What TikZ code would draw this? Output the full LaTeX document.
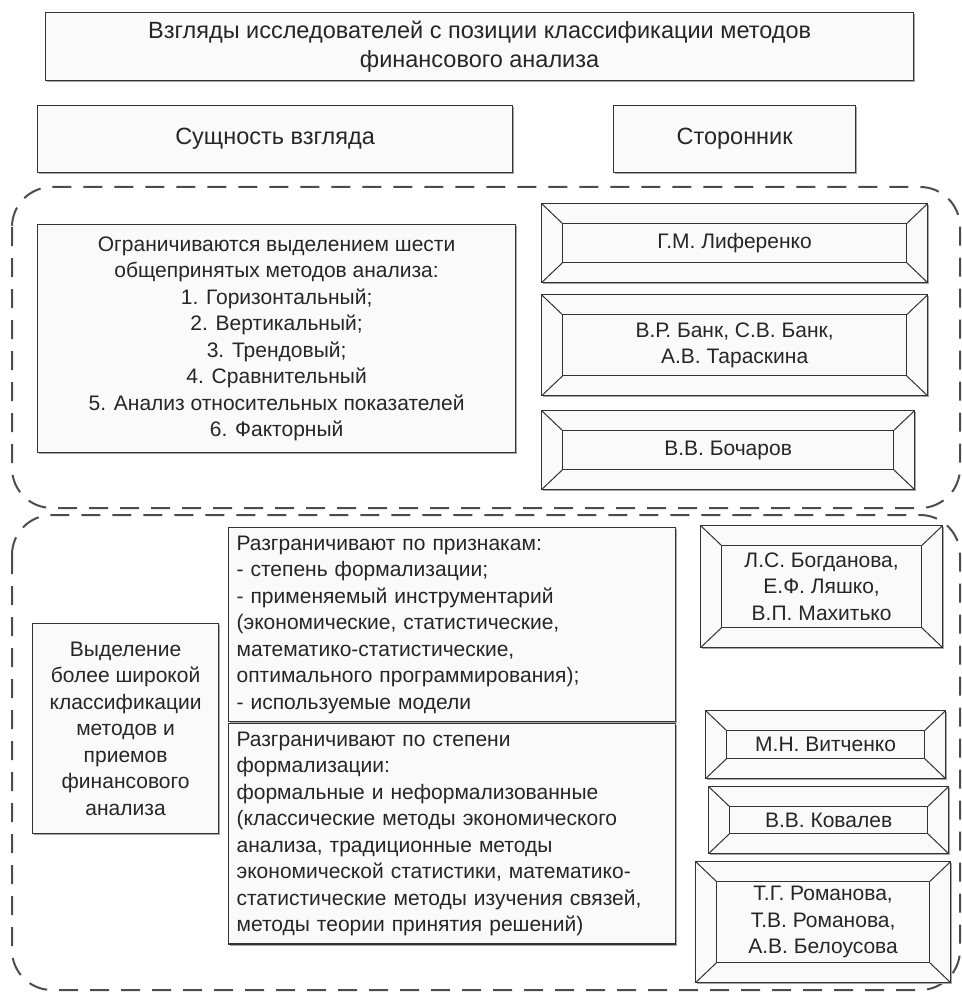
\documentclass[tikz,border=0pt]{standalone}
\usepackage{fontspec}
\setmainfont{Liberation Sans}
\usetikzlibrary{positioning}
\usetikzlibrary{shadows}

\begin{document}
\begin{tikzpicture}[x=1pt, y=-1pt,
	font=\fontsize{21}{26.5}\selectfont, text=black!85,
	main node/.style={rectangle, draw=black!80, line width=1.2pt, fill=black!2,
		inner sep=0pt, anchor=north west, align=center,
		drop shadow={shadow xshift=1pt, shadow yshift=-1.6pt, fill=black!35, opacity=1}},
	head node/.style={main node, font=\fontsize{23.5}{29}\selectfont},
	list node/.style={main node, align=left, inner sep=8pt},
	bevel node/.style={main node, path picture={
		\draw[line width=1.2pt, draw=black!80]
		([shift={(21pt,-20pt)}]path picture bounding box.north west) rectangle
		([shift={(-21pt,20pt)}]path picture bounding box.south east);
		\draw[line width=1pt, draw=black!80]
		(path picture bounding box.north west) -- ([shift={(21pt,-20pt)}]path picture bounding box.north west)
		(path picture bounding box.north east) -- ([shift={(-21pt,-20pt)}]path picture bounding box.north east)
		(path picture bounding box.south west) -- ([shift={(21pt,20pt)}]path picture bounding box.south west)
		(path picture bounding box.south east) -- ([shift={(-21pt,20pt)}]path picture bounding box.south east);}},
	group/.style={draw=black!70, line width=2pt, dash pattern=on 19pt off 12pt, rounded corners=40pt}]
	\useasboundingbox (0,0) rectangle (961,992);
	% header
	\node[head node, minimum width=868pt, minimum height=68pt] (title) at (45,12)
	{Взгляды исследователей с позиции классификации методов\\финансового анализа};
	\node[head node, minimum width=475pt, minimum height=67pt] (essence) at (37,105) {Сущность взгляда};
	\node[head node, minimum width=242pt, minimum height=67pt] (adept) at (613,105) {Сторонник};
	% first group
	\draw[group] (12,187) rectangle (960,508);
	\node[main node, minimum width=478pt, minimum height=228pt] (six) at (37,224)
	{Ограничиваются выделением шести\\общепринятых методов анализа:\\1. Горизонтальный;\\2. Вертикальный;\\3. Трендовый;\\4. Сравнительный\\5. Анализ относительных показателей\\6. Факторный};
	\node[bevel node, minimum width=386pt, minimum height=79pt] (lif) at (541,203) {Г.М. Лиференко};
	\node[bevel node, minimum width=386pt, minimum height=101pt] (bank) [below=11pt of lif] {В.Р. Банк, С.В. Банк,\\А.В. Тараскина};
	\node[bevel node, minimum width=373pt, minimum height=79pt] (boch) at (541,410) {В.В. Бочаров};
	% second group
	\draw[group] (12,515) rectangle (960,990);
	\node[main node, minimum width=186pt, minimum height=210pt] (wide) at (32,623)
	{Выделение\\более широкой\\классификации\\методов и\\приемов\\финансового\\анализа};
	\node[list node, text width=431pt, minimum height=188pt] (signs) at (228,527)
	{Разграничивают по признакам:\\- степень формализации;\\- применяемый инструментарий\\(экономические, статистические,\\математико-статистические,\\оптимального программирования);\\- используемые модели};
	\node[list node, text width=431pt, minimum height=217pt] (degree) at (228,723)
	{Разграничивают по степени\\формализации:\\формальные и неформализованные\\(классические методы экономического\\анализа, традиционные методы\\экономической статистики, математико-\\статистические методы изучения связей,\\методы теории принятия решений)};
	\node[bevel node, minimum width=242pt, minimum height=122pt] (bogd) at (700,525) {Л.С. Богданова,\\Е.Ф. Ляшко,\\В.П. Махитько};
	\node[bevel node, minimum width=240pt, minimum height=68pt] (vit) at (705,710) {М.Н. Витченко};
	\node[bevel node, minimum width=240pt, minimum height=67pt] (kov) at (708,786) {В.В. Ковалев};
	\node[bevel node, minimum width=255pt, minimum height=121pt] (rom) at (695,861) {Т.Г. Романова,\\Т.В. Романова,\\А.В. Белоусова};
\end{tikzpicture}
\end{document}
